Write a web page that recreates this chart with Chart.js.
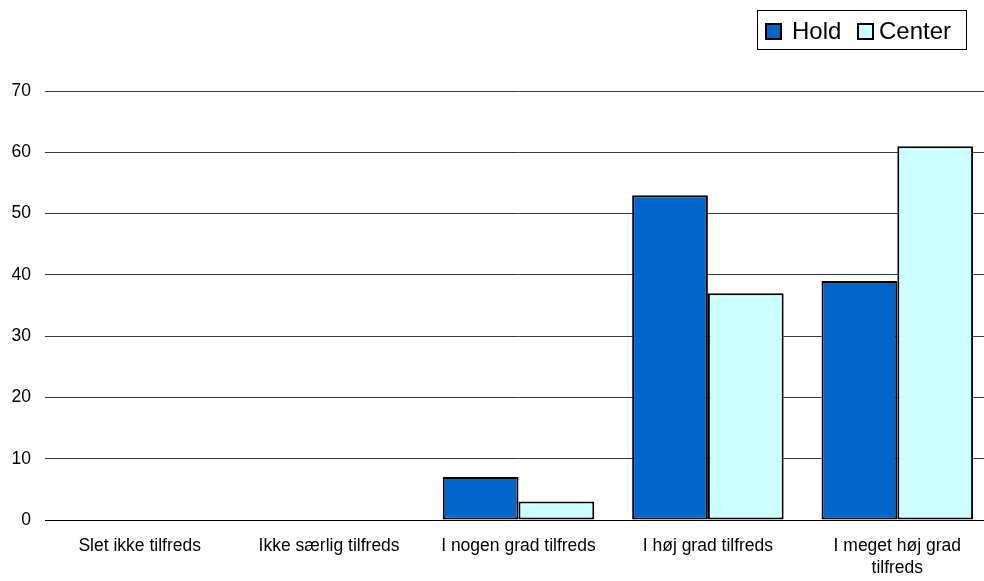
<!DOCTYPE html>
<html>
<head>
<meta charset="utf-8">
<script src="https://cdn.jsdelivr.net/npm/chart.js@4"></script>
<style>
  html, body { margin: 0; padding: 0; background: #fff; overflow: hidden; }
  #wrap { position: relative; width: 1000px; height: 581px; }
  #legend {
    position: absolute; left: 757px; top: 10px; width: 208px; height: 38px;
    border: 1px solid #000; background: #fff;
    font-family: "Liberation Sans", Arial, sans-serif; font-size: 24px; color: #000;
  }
  #legend .item { position: absolute; top: 0; height: 38px; line-height: 40px; white-space: nowrap; }
  #legend .sw {
    position: absolute; top: 12px; width: 13px; height: 13px; border: 2px solid #000;
  }
  #legend .lbl { position: absolute; top: 0; }
</style>
</head>
<body>
<div id="wrap">
  <canvas id="chart" width="1000" height="581"></canvas>
  <div id="legend"></div>
</div>
<script>
// start: Data
const categories = [
  "Slet ikke tilfreds",
  "Ikke særlig tilfreds",
  "I nogen grad tilfreds",
  "I høj grad tilfreds",
  ["I meget høj grad", "tilfreds"],
];
const seriesNames = ["Hold", "Center"];
const holdValues = [0, 0, 7, 53, 39];
const centerValues = [0, 0, 3, 37, 61];
const yTicks = [0, 10, 20, 30, 40, 50, 60, 70];
const colors = ["#0066CC", "#CCFFFF"];
// end: Data

// start: Legend
const legend = document.getElementById("legend");
const legendPos = [{ sw: 7, lbl: 34 }, { sw: 99, lbl: 121 }];
seriesNames.forEach(function (name, i) {
  const item = document.createElement("div");
  item.className = "item";
  item.style.left = "0px";
  item.innerHTML =
    '<span class="sw" style="left:' + legendPos[i].sw + 'px;background:' + colors[i] + '"></span>' +
    '<span class="lbl" style="left:' + legendPos[i].lbl + 'px">' + name + "</span>";
  legend.appendChild(item);
});
// end: Legend

// start: Chart
const font = { family: "'Liberation Sans', Arial, sans-serif", size: 17.5 };

new Chart(document.getElementById("chart"), {
  type: "bar",
  data: {
    labels: categories,
    datasets: [
      {
        label: seriesNames[0],
        data: holdValues,
        backgroundColor: colors[0],
        borderColor: "#000",
        borderWidth: 2,
        borderSkipped: false,
        barPercentage: 1,
        categoryPercentage: 0.8,
      },
      {
        label: seriesNames[1],
        data: centerValues,
        backgroundColor: colors[1],
        borderColor: "#000",
        borderWidth: 2,
        borderSkipped: false,
        barPercentage: 1,
        categoryPercentage: 0.8,
      },
    ],
  },
  options: {
    responsive: false,
    animation: false,
    layout: { padding: { top: 91, left: 12, right: 8, bottom: 0 } },
    plugins: {
      legend: { display: false },
      tooltip: { enabled: false },
    },
    scales: {
      x: {
        afterFit: function (scale) { scale.height = 61; },
        grid: { display: false, drawTicks: false },
        border: { display: true, color: "#000", width: 1 },
        ticks: {
          color: "#000",
          font: Object.assign({ lineHeight: 1.26 }, font),
          padding: 15,
          maxRotation: 0,
          autoSkip: false,
        },
      },
      y: {
        min: 0,
        max: 70,
        afterFit: function (scale) { scale.width = 33; },
        afterBuildTicks: function (scale) {
          scale.ticks = yTicks.map(function (v) { return { value: v }; });
        },
        grid: {
          drawTicks: false,
          color: function (ctx) {
            return ctx.tick && ctx.tick.value === 0 ? "#000" : "#3a3a3a";
          },
          lineWidth: 1,
        },
        border: { display: false },
        ticks: {
          color: "#000",
          font: font,
          padding: 14,
        },
      },
    },
  },
});
// end: Chart
</script>
</body>
</html>
